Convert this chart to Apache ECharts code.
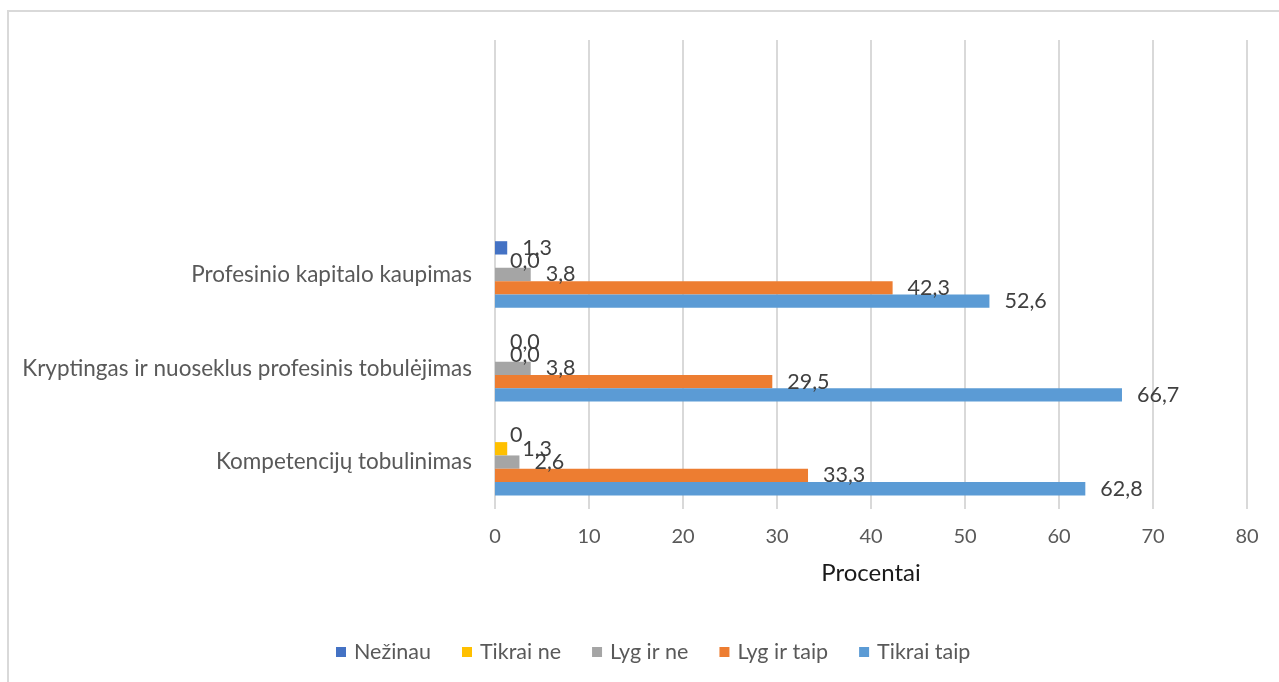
<!DOCTYPE html>
<html>
<head>
<meta charset="utf-8">
<script src="https://cdn.jsdelivr.net/npm/echarts@6/dist/echarts.min.js"></script>
<style>
  html, body { margin: 0; padding: 0; background: #fff; }
  #chart { width: 1279px; height: 682px; }
</style>
</head>
<body>
<div id="chart"></div>
<script>
// Categories from bottom to top; the two top slots are left blank.
const categories = [
  'Kompetencijų tobulinimas',
  'Kryptingas ir nuoseklus profesinis tobulėjimas',
  'Profesinio kapitalo kaupimas',
  '',
  ''
];

const seriesNames = ['Nežinau', 'Tikrai ne', 'Lyg ir ne', 'Lyg ir taip', 'Tikrai taip'];

const nezinau    = [0, 0.0, 1.3, '-', '-'];
const nezinauText = ['0', '0,0', '1,3'];
const tikraiNe   = [1.3, 0.0, 0.0, '-', '-'];
const lygIrNe    = [2.6, 3.8, 3.8, '-', '-'];
const lygIrTaip  = [33.3, 29.5, 42.3, '-', '-'];
const tikraiTaip = [62.8, 66.7, 52.6, '-', '-'];

const xTicks = { min: 0, max: 80, interval: 10 };

const colors = ['#4472C4', '#FFC000', '#A5A5A5', '#ED7D31', '#5B9BD5'];
const FONT = 'Lato, "Open Sans", sans-serif';

const fmt = v => Number(v).toFixed(1).replace('.', ',');

function makeSeries(name, data, color, formatter) {
  return {
    name: name,
    type: 'bar',
    data: data,
    barGap: '0%',
    barCategoryGap: '29%',
    itemStyle: { color: color },
    label: {
      show: true,
      position: 'right',
      distance: 15,
      color: '#404040',
      fontFamily: FONT,
      fontSize: 21.5,
      formatter: formatter || (p => fmt(p.value))
    },
    emphasis: { disabled: true },
    animation: false
  };
}

const chart = echarts.init(document.getElementById('chart'), null, { renderer: 'canvas' });

chart.setOption({
  animation: false,
  color: colors,
  textStyle: { fontFamily: FONT },
  graphic: [{
    type: 'rect',
    shape: { x: 8, y: 11, width: 1300, height: 700 },
    style: { fill: 'none', stroke: '#d9d9d9', lineWidth: 2 },
    silent: true,
    z: -1
  }],
  grid: { left: 495, right: 32, top: 40, bottom: 173, containLabel: false },
  legend: {
    data: seriesNames,
    top: 636,
    left: 331,
    itemWidth: 10,
    itemHeight: 10,
    itemGap: 31,
    icon: 'rect',
    textStyle: { color: '#595959', fontSize: 21.5, fontFamily: FONT, padding: [0, 0, 0, 3] }
  },
  xAxis: {
    type: 'value',
    min: xTicks.min,
    max: xTicks.max,
    interval: xTicks.interval,
    name: 'Procentai',
    nameLocation: 'middle',
    nameGap: 52,
    nameTextStyle: { color: '#1a1a1a', fontSize: 24, fontFamily: FONT },
    axisLine: { show: false },
    axisTick: { show: false },
    axisLabel: { color: '#595959', fontSize: 20, margin: 18, fontFamily: FONT },
    splitLine: { show: true, lineStyle: { color: '#d9d9d9', width: 2 } }
  },
  yAxis: {
    type: 'category',
    data: categories,
    axisLine: { show: false },
    axisTick: { show: false },
    axisLabel: { color: '#595959', fontSize: 22.5, margin: 23, fontFamily: FONT },
    splitLine: { show: false }
  },
  series: [
    makeSeries(seriesNames[0], nezinau, colors[0], p => nezinauText[p.dataIndex]),
    makeSeries(seriesNames[1], tikraiNe, colors[1]),
    makeSeries(seriesNames[2], lygIrNe, colors[2]),
    makeSeries(seriesNames[3], lygIrTaip, colors[3]),
    makeSeries(seriesNames[4], tikraiTaip, colors[4])
  ]
});
</script>
</body>
</html>
